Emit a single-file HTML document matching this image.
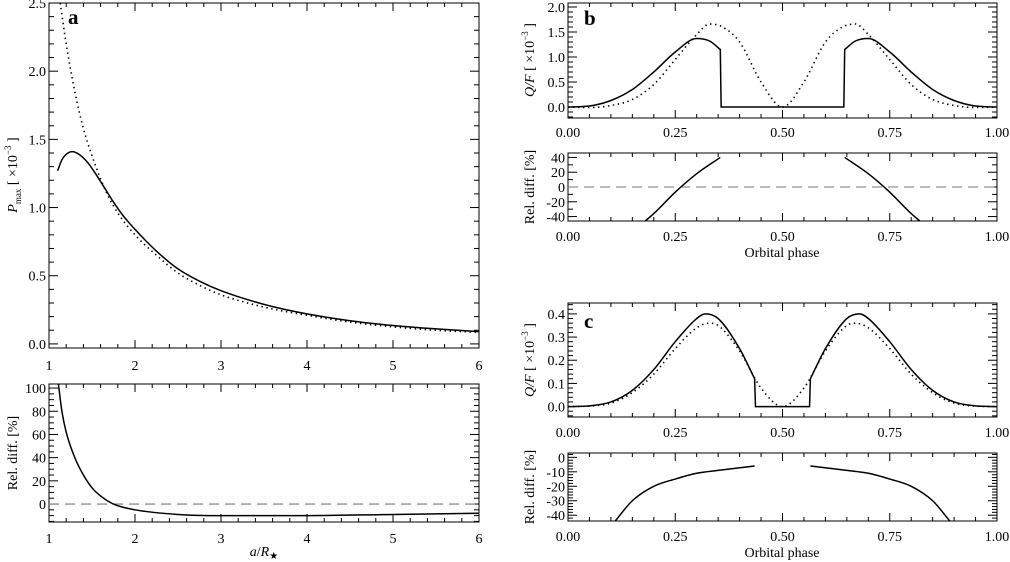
<!DOCTYPE html>
<html><head><meta charset="utf-8">
<style>
html,body{margin:0;padding:0;background:#fff;}
svg{display:block;font-family:"Liberation Serif",serif;}
</style></head>
<body>
<svg id="fig" width="1010" height="562" viewBox="0 0 1010 562" xmlns="http://www.w3.org/2000/svg" font-family="Liberation Serif, serif"></svg>
<script>
// ---- Panel a data ----
const aX = [1.1,1.15,1.2,1.27,1.35,1.45,1.55,1.65,1.75,1.85,2.0,2.25,2.5,2.75,3.0,3.5,4.0,4.5,5.0,5.5,6.0];
const aSolid = [1.27,1.35,1.39,1.41,1.39,1.33,1.24,1.14,1.04,0.95,0.84,0.68,0.55,0.46,0.39,0.29,0.22,0.17,0.135,0.11,0.09];
const aDotX = [1.13,1.2,1.3,1.4,1.5,1.6,1.7,1.8,2.0,2.25,2.5,2.75,3.0,3.5,4.0,4.5,5.0,5.5,6.0];
const aDotted = [2.5,2.2,1.85,1.58,1.38,1.21,1.07,0.96,0.80,0.65,0.52,0.43,0.36,0.27,0.21,0.16,0.125,0.10,0.085];
const aRelX = [1.11,1.15,1.2,1.3,1.4,1.5,1.6,1.75,2.0,2.5,3.0,4.0,5.0,6.0];
const aRel = [103,80,62,40,25,14,7,0,-5,-9,-10,-10,-9,-8];
// ---- Panel b data ----
const bX = [0,0.05,0.1,0.15,0.2,0.25,0.3,0.33,0.355,0.357,0.5,0.643,0.645,0.67,0.7,0.75,0.8,0.85,0.9,0.95,1.0];
const bSolid = [0,0.02,0.13,0.35,0.7,1.1,1.37,1.32,1.15,0,0,0,1.15,1.32,1.37,1.1,0.7,0.35,0.13,0.02,0];
const bDotX = [0,0.05,0.1,0.15,0.2,0.25,0.3,0.33,0.36,0.4,0.45,0.5,0.55,0.6,0.64,0.67,0.7,0.75,0.8,0.85,0.9,0.95,1.0];
const bDotted = [0,-0.01,0.03,0.15,0.45,0.95,1.45,1.66,1.6,1.3,0.5,0,0.5,1.3,1.6,1.66,1.45,0.95,0.45,0.15,0.03,-0.01,0];
const bRelX1 = [0.18,0.2,0.25,0.3,0.355];
const bRel1 = [-46,-36,-7,18,40];
const bRelX2 = [0.645,0.7,0.75,0.8,0.82];
const bRel2 = [40,18,-7,-36,-46];
// ---- Panel c data ----
const cX = [0,0.05,0.1,0.15,0.2,0.25,0.3,0.32,0.35,0.4,0.435,0.437,0.5,0.563,0.565,0.6,0.65,0.68,0.7,0.75,0.8,0.85,0.9,0.95,1.0];
const cSolid = [0,0.003,0.02,0.07,0.16,0.28,0.38,0.40,0.38,0.25,0.12,0,0,0,0.12,0.25,0.38,0.40,0.38,0.28,0.16,0.07,0.02,0.003,0];
const cDotX = [0,0.05,0.1,0.15,0.2,0.25,0.3,0.33,0.35,0.4,0.45,0.5,0.55,0.6,0.65,0.67,0.7,0.75,0.8,0.85,0.9,0.95,1.0];
const cDotted = [0,0.002,0.015,0.06,0.14,0.25,0.34,0.36,0.35,0.24,0.08,0,0.08,0.24,0.35,0.36,0.34,0.25,0.14,0.06,0.015,0.002,0];
const cRelX1 = [0.11,0.15,0.2,0.25,0.3,0.35,0.435];
const cRel1 = [-44,-30,-20,-15,-11,-9,-6];
const cRelX2 = [0.565,0.65,0.7,0.75,0.8,0.85,0.89];
const cRel2 = [-6,-9,-11,-15,-20,-30,-44];
// ---- tick labels ----
const aXTicks = [1,2,3,4,5,6];
const aYTicks = [0,0.5,1,1.5,2,2.5];
const aRelTicks = [0,20,40,60,80,100];
const phTicks = [0,0.25,0.5,0.75,1];
const bYTicks = [0,0.5,1,1.5,2];
const bRelTicks = [-40,-20,0,20,40];
const cYTicks = [0,0.1,0.2,0.3,0.4];
const cRelTicks = [-40,-30,-20,-10,0];

const NS="http://www.w3.org/2000/svg";
const svg=document.getElementById('fig');
function el(tag,attrs,parent){const e=document.createElementNS(NS,tag);for(const k in attrs)e.setAttribute(k,attrs[k]);(parent||svg).appendChild(e);return e;}

// monotone cubic through one run of points
function monoRun(P){
  const n=P.length; if(n<2) return '';
  const d=[],m=[];
  for(let i=0;i<n-1;i++){d.push((P[i+1][1]-P[i][1])/(P[i+1][0]-P[i][0]));}
  for(let i=0;i<n;i++){
    if(i===0)m.push(d[0]);else if(i===n-1)m.push(d[n-2]);
    else m.push(d[i-1]*d[i]<=0?0:(d[i-1]+d[i])/2);
  }
  for(let i=0;i<n-1;i++){
    if(d[i]===0){m[i]=0;m[i+1]=0;continue;}
    const a=m[i]/d[i],b=m[i+1]/d[i],s=a*a+b*b;
    if(s>9){const t=3/Math.sqrt(s);m[i]=t*a*d[i];m[i+1]=t*b*d[i];}
  }
  let s='';
  for(let i=0;i<n-1;i++){
    const h=(P[i+1][0]-P[i][0])/3;
    s+='C'+(P[i][0]+h).toFixed(2)+','+(P[i][1]+m[i]*h).toFixed(2)+' '+(P[i+1][0]-h).toFixed(2)+','+(P[i+1][1]-m[i+1]*h).toFixed(2)+' '+P[i+1][0].toFixed(2)+','+P[i+1][1].toFixed(2);
  }
  return s;
}
// split into runs at near-vertical jumps, join with straight lines
function monoPath(P){
  let s='M'+P[0][0].toFixed(2)+','+P[0][1].toFixed(2);
  let run=[P[0]];
  for(let i=1;i<P.length;i++){
    if(P[i][0]-P[i-1][0]<1.5){
      s+=monoRun(run);
      s+='L'+P[i][0].toFixed(2)+','+P[i][1].toFixed(2);
      run=[P[i]];
    } else run.push(P[i]);
  }
  s+=monoRun(run);
  return s;
}

function panel(name,box,xr,yr,opt){
  const g=el('g',{});
  
  
  const sx=v=>box.x0+(v-xr[0])/(xr[1]-xr[0])*(box.x1-box.x0);
  const sy=v=>box.y1-(v-yr[0])/(yr[1]-yr[0])*(box.y1-box.y0);
  const fr=el('rect',{x:box.x0,y:box.y0,width:box.x1-box.x0,height:box.y1-box.y0,fill:'none',stroke:'#000','stroke-width':1},g);
  
  
  const eps=1e-9;
  for(let v=Math.ceil(xr[0]/opt.xmin-eps)*opt.xmin; v<=xr[1]+eps; v+=opt.xmin){
    const major=Math.abs(v/opt.xmaj-Math.round(v/opt.xmaj))<1e-6;
    const L=major?8:4, x=sx(v);
    el('line',{x1:x,y1:box.y1,x2:x,y2:box.y1-L,stroke:'#000','stroke-width':1},g);
    el('line',{x1:x,y1:box.y0,x2:x,y2:box.y0+L,stroke:'#000','stroke-width':1},g);
  }
  for(let v=Math.ceil(yr[0]/opt.ymin-eps)*opt.ymin; v<=yr[1]+eps; v+=opt.ymin){
    const major=Math.abs(v/opt.ymaj-Math.round(v/opt.ymaj))<1e-6;
    const L=major?9:5, y=sy(v);
    el('line',{x1:box.x0,y1:y,x2:box.x0+L,y2:y,stroke:'#000','stroke-width':1},g);
    el('line',{x1:box.x1,y1:y,x2:box.x1-L,y2:y,stroke:'#000','stroke-width':1},g);
  }
  opt.xt.forEach(v=>{
    const t=el('text',{x:sx(v),y:box.y1+opt.xlOff,'text-anchor':'middle','font-size':14},g);
    t.textContent=opt.xfmt(v);
    
    
  });
  opt.yt.forEach(v=>{
    const t=el('text',{x:box.x0-3,y:sy(v)+5,'text-anchor':'end','font-size':14},g);
    t.textContent=opt.yfmt(v);
    
    
  });
  const clipId='clip-'+name;
  const cp=el('clipPath',{id:clipId},g);
  el('rect',{x:box.x0,y:box.y0,width:box.x1-box.x0,height:box.y1-box.y0},cp);
  function line(xs,ys,style,nm){
    const P=xs.map((x,i)=>[sx(x),sy(ys[i])]);
    const p=el('path',Object.assign({d:monoPath(P),fill:'none','clip-path':'url(#'+clipId+')'},style),g);
    
    
  }
  return {sx,sy,line,g};
}
const solid={stroke:'#000','stroke-width':1.5};
const dotted={stroke:'#000','stroke-width':1.6,'stroke-dasharray':'1.4 3.6'};
const dashed={stroke:'#777','stroke-width':1.1,'stroke-dasharray':'10 6'};
const f1=v=>v.toFixed(1), f2=v=>v.toFixed(2), f0=v=>String(v);

const pa=panel('panel-a-top',{x0:49,x1:479,y0:3,y1:348},[1,6],[-0.03,2.5],
  {xmaj:1,xmin:0.2,ymaj:0.5,ymin:0.1,xt:aXTicks,yt:aYTicks,xfmt:f0,yfmt:f1,xlOff:22});
pa.line(aDotX,aDotted,dotted,'dotted-pmax-curve');
pa.line(aX,aSolid,solid,'solid-pmax-curve');
const pa2=panel('panel-a-bottom',{x0:49,x1:479,y0:384,y1:522},[1,6],[-15.5,103.5],
  {xmaj:1,xmin:0.2,ymaj:20,ymin:5,xt:aXTicks,yt:aRelTicks,xfmt:f0,yfmt:f0,xlOff:21});
pa2.line([1,6],[0,0],dashed,'zero-line');
pa2.line(aRelX,aRel,solid,'rel-diff-curve');
const pb=panel('panel-b-top',{x0:568,x1:997,y0:3,y1:118},[0,1],[-0.22,2.08],
  {xmaj:0.25,xmin:0.05,ymaj:0.5,ymin:0.1,xt:phTicks,yt:bYTicks,xfmt:f2,yfmt:f1,xlOff:19});
pb.line(bDotX,bDotted,dotted,'dotted-qf-curve');
pb.line(bX,bSolid,solid,'solid-qf-curve');
const pb2=panel('panel-b-bottom',{x0:568,x1:997,y0:153,y1:221},[0,1],[-46,46],
  {xmaj:0.25,xmin:0.05,ymaj:20,ymin:10,xt:phTicks,yt:bRelTicks,xfmt:f2,yfmt:f0,xlOff:20});
pb2.line([0,1],[0,0],dashed,'zero-line');
pb2.line(bRelX1,bRel1,solid,'rel-diff-left');
pb2.line(bRelX2,bRel2,solid,'rel-diff-right');
const pc=panel('panel-c-top',{x0:568,x1:997,y0:303,y1:417},[0,1],[-0.045,0.447],
  {xmaj:0.25,xmin:0.05,ymaj:0.1,ymin:0.02,xt:phTicks,yt:cYTicks,xfmt:f2,yfmt:f1,xlOff:20});
pc.line(cDotX,cDotted,dotted,'dotted-qf-curve');
pc.line(cX,cSolid,solid,'solid-qf-curve');
const pc2=panel('panel-c-bottom',{x0:568,x1:997,y0:453,y1:521},[0,1],[-44,3],
  {xmaj:0.25,xmin:0.05,ymaj:10,ymin:2,xt:phTicks,yt:cRelTicks,xfmt:f2,yfmt:f0,xlOff:20});
pc2.line(cRelX1,cRel1,solid,'rel-diff-left');
pc2.line(cRelX2,cRel2,solid,'rel-diff-right');
</script>
<svg width="1010" height="562" style="position:absolute;left:0;top:0" xmlns="http://www.w3.org/2000/svg" font-family="Liberation Serif, serif">
  <text x="68" y="24" font-size="21" font-weight="bold">a</text>
  <text x="584" y="25" font-size="21" font-weight="bold">b</text>
  <text x="584" y="328" font-size="21" font-weight="bold">c</text>
  <text transform="translate(17,175) rotate(-90)" text-anchor="middle" font-size="14"><tspan font-style="italic">P</tspan><tspan font-size="9" dy="4">max</tspan><tspan dy="-4"> [ ×10</tspan><tspan font-size="9" dy="-6">−3</tspan><tspan dy="6"> ]</tspan></text>
  <text transform="translate(17,453) rotate(-90)" text-anchor="middle" font-size="14">Rel. diff. [%]</text>
  <text x="264" y="556" text-anchor="middle" font-size="14"><tspan font-style="italic">a</tspan>/<tspan font-style="italic">R</tspan><tspan font-size="10" dy="3">★</tspan></text>
  <text transform="translate(534,60) rotate(-90)" text-anchor="middle" font-size="14"><tspan font-style="italic">Q/F</tspan> [ ×10<tspan font-size="9" dy="-6">−3</tspan><tspan dy="6"> ]</tspan></text>
  <text transform="translate(534,187) rotate(-90)" text-anchor="middle" font-size="14">Rel. diff. [%]</text>
  <text x="782" y="257" text-anchor="middle" font-size="14">Orbital phase</text>
  <text transform="translate(534,360) rotate(-90)" text-anchor="middle" font-size="14"><tspan font-style="italic">Q/F</tspan> [ ×10<tspan font-size="9" dy="-6">−3</tspan><tspan dy="6"> ]</tspan></text>
  <text transform="translate(534,487) rotate(-90)" text-anchor="middle" font-size="14">Rel. diff. [%]</text>
  <text x="782" y="557" text-anchor="middle" font-size="14">Orbital phase</text>
</svg>
</body></html>
